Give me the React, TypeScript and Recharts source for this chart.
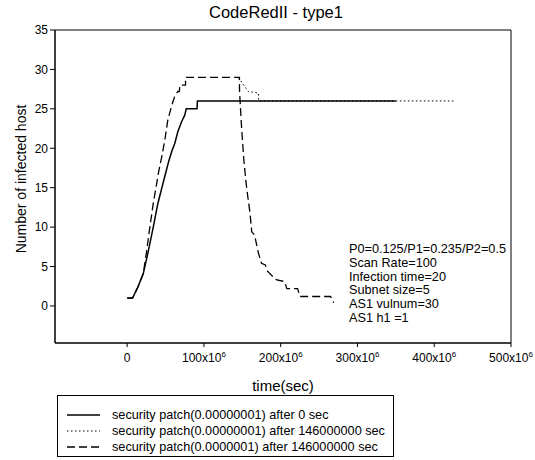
import React from "react";
import { LineChart, Line, XAxis, YAxis, ReferenceArea, Label } from "recharts";

// time in units of 10^6 sec, value = number of infected hosts
const solidTime = [0, 7, 14, 21, 27, 34, 40, 46, 50, 54, 58, 62, 66, 71, 75, 77, 91, 91.5, 350];
const solidHosts = [1, 1, 2.4, 4.1, 6.7, 10, 13, 15.3, 16.8, 18.3, 19.6, 20.6, 22.1, 23.4, 24.2, 25, 25, 26, 26];

const dashedTime = [0, 7, 14, 21, 25, 29, 34, 41, 45, 49, 53, 58, 62, 66, 68, 68.6, 76, 76.1, 146, 146.5, 149, 152, 154.5, 156, 160, 162.3, 166, 167, 171, 175, 180, 182, 186, 192, 195, 205, 208, 222, 225, 265, 269];
const dashedHosts = [1, 1, 2.4, 4.1, 6.7, 9.6, 13, 17, 18.9, 21, 23.6, 25.4, 26.6, 27.2, 27.2, 28, 28, 29, 29, 27, 22.7, 18.5, 16, 14.7, 11.8, 9.4, 9, 8.5, 6.7, 5.4, 5.2, 4.5, 4.1, 3.5, 3.3, 3.1, 2.2, 2.2, 1.2, 1.2, 0.4];

const dottedTime = [146, 149, 153.5, 158, 171, 171.5, 425];
const dottedHosts = [29, 28.4, 27.8, 27.2, 27, 26, 26];

const xTicks = [0, 100, 200, 300, 400, 500];
const yTicks = [0, 5, 10, 15, 20, 25, 30, 35];

const legendLabels = [
  "security patch(0.00000001) after 0 sec",
  "security patch(0.00000001) after 146000000 sec",
  "security patch(0.0000001) after 146000000 sec",
];

const annotationLines = [
  "P0=0.125/P1=0.235/P2=0.5",
  "Scan Rate=100",
  "Infection time=20",
  "Subnet size=5",
  "AS1 vulnum=30",
  "AS1 h1 =1",
];

const zip = (t: number[], v: number[]) => t.map((x, i) => ({ t: x, v: v[i] }));
const solidData = zip(solidTime, solidHosts);
const dashedData = zip(dashedTime, dashedHosts);
const dottedData = zip(dottedTime, dottedHosts);

const FONT = '"Liberation Sans", Arial, Helvetica, sans-serif';

const XTick = (props: any) => {
  const { x, y, payload } = props;
  const v = payload.value;
  return (
    <text x={x} y={y + 13} textAnchor="middle" fontFamily={FONT} fontSize={12} fill="#000">
      {v === 0 ? (
        "0"
      ) : (
        <>
          <tspan>{`${v}x10`}</tspan>
          <tspan fontSize={8} dy={-5}>6</tspan>
        </>
      )}
    </text>
  );
};

const dashStyles = ["none", "1.5 2.5", "8 4"];

export default function App() {
  return (
    <div style={{ position: "relative", width: 535, height: 460, fontFamily: FONT, color: "#000", background: "#fff" }}>
      <style>{`body{margin:0}`}</style>
      <div
        style={{
          position: "absolute",
          left: 156,
          width: 240,
          top: 2,
          textAlign: "center",
          fontSize: 16.5,
          lineHeight: "20px",
        }}
      >
        CodeRedII - type1
      </div>
      <LineChart
        width={535}
        height={460}
        margin={{ top: 30, right: 24, bottom: 87, left: 0 }}
        style={{ position: "absolute", left: 0, top: 0 }}
      >
        <XAxis
          type="number"
          dataKey="t"
          domain={[-94, 500]}
          ticks={xTicks}
          allowDataOverflow
          height={30}
          tickSize={4}
          tickMargin={2}
          stroke="#000"
          tick={<XTick />}
        >
          <Label
            content={() => (
              <text x={283} y={391} textAnchor="middle" fontFamily={FONT} fontSize={15} fill="#000">
                time(sec)
              </text>
            )}
          />
        </XAxis>
        <YAxis
          type="number"
          domain={[-4.7, 35]}
          ticks={yTicks}
          allowDataOverflow
          width={55}
          tickSize={5}
          tickMargin={2}
          stroke="#000"
          tick={{ fill: "#000", fontSize: 12, fontFamily: FONT }}
        >
          <Label
            content={() => (
              <text
                x={21}
                y={179}
                transform="rotate(-90 21 179)"
                textAnchor="middle"
                dominantBaseline="central"
                fontFamily={FONT}
                fontSize={14}
                fill="#000"
              >
                Number of infected host
              </text>
            )}
          />
        </YAxis>
        <ReferenceArea x1={-94} x2={500} y1={-4.7} y2={35} fill="none" stroke="#000" strokeWidth={1} />
        <Line data={dottedData} dataKey="v" type="linear" stroke="#000" strokeWidth={1} strokeDasharray="1.5 2.5" dot={false} isAnimationActive={false} />
        <Line data={solidData} dataKey="v" type="linear" stroke="#000" strokeWidth={1.5} dot={false} isAnimationActive={false} />
        <Line data={dashedData} dataKey="v" type="linear" stroke="#000" strokeWidth={1.3} strokeDasharray="8 4" dot={false} isAnimationActive={false} />
      </LineChart>
      <div
        style={{
          position: "absolute",
          left: 349,
          top: 243,
          fontSize: 12.7,
          lineHeight: "13.8px",
          whiteSpace: "nowrap",
        }}
      >
        {annotationLines.map((l, i) => (
          <div key={i}>{l}</div>
        ))}
      </div>
      <div
        style={{
          position: "absolute",
          left: 57,
          top: 395,
          width: 337,
          height: 62,
          border: "1px solid #000",
          boxSizing: "border-box",
          paddingTop: 11,
        }}
      >
        {legendLabels.map((l, i) => (
          <div key={i} style={{ display: "flex", alignItems: "center", height: 16, whiteSpace: "nowrap" }}>
            <svg width={54} height={10} style={{ flex: "none" }}>
              <line x1={9} y1={5} x2={42} y2={5} stroke="#000" strokeWidth={i === 1 ? 1 : 1.3} strokeDasharray={dashStyles[i]} />
            </svg>
            <span style={{ fontSize: 12.7 }}>{l}</span>
          </div>
        ))}
      </div>
    </div>
  );
}
